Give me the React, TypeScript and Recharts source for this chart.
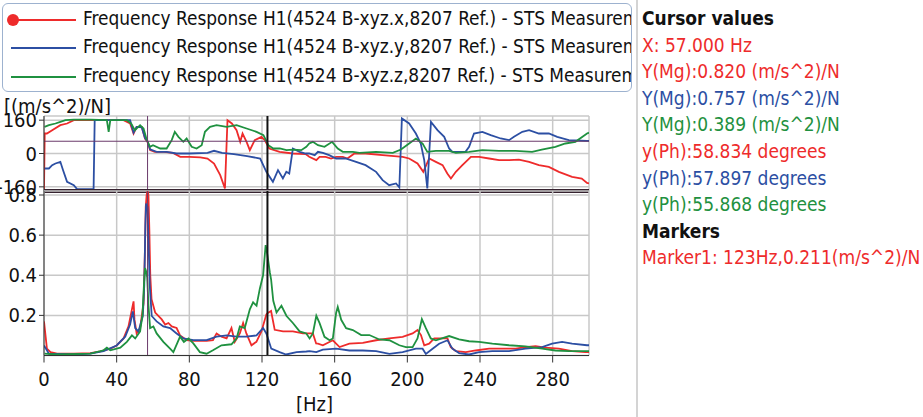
import { LineChart, Line, XAxis, YAxis, CartesianGrid, ReferenceLine } from "recharts";

const FONT = "'DejaVu Sans Condensed', 'Liberation Sans', sans-serif";
const RED = "#ee2b2b";
const BLUE = "#2c4fa3";
const GREEN = "#1f9140";

const legendLabels = [
  "Frequency Response H1(4524 B-xyz.x,8207 Ref.) - STS Measurement",
  "Frequency Response H1(4524 B-xyz.y,8207 Ref.) - STS Measurement",
  "Frequency Response H1(4524 B-xyz.z,8207 Ref.) - STS Measurement",
];

const xTicks = [0, 40, 80, 120, 160, 200, 240, 280];
const phaseTicks = [-160, 0, 160];
const magTicks = [0.2, 0.4, 0.6, 0.8];

const cursorHz = 57;
const cursorPh = 58.834;
const markerHz = 123;

// [Hz, degrees]
const redPh: [number, number][] = [
  [0, -175], [0.4, 96], [1.6, 96], [4.5, 112], [9, 136], [12.7, 144], [16.4, 160], [25.5, 160],
  [34.6, 160], [43.8, 160], [47.4, 144], [49.3, 96], [51, 128], [53.8, 128], [55.6, 72], [57, 56],
  [58.4, 16], [61, 8], [66, 8], [71, 3], [75, -16], [80, -16], [86, -19], [90, -24], [93.6, -48],
  [97, -104], [99.6, -168], [101, 160], [103.4, 144], [106, 112], [108, 56], [109.3, 96], [111.5, 56],
  [113.3, 16], [116, 64], [119.7, 80], [121.5, 64], [124, 24], [129.7, 8], [137, 0], [144, -3],
  [146, -16], [149.9, -32], [151.7, -16], [155, -16], [158, -24], [160.8, -16], [164.5, -16],
  [167, -24], [170.9, 0], [177, 0], [186.4, -8], [197.4, -16], [201, -24], [205.6, -48], [208.8, -88],
  [212, -24], [215.7, -40], [219.4, -56], [222, -96], [224, -120], [226.7, -88], [230.3, -56],
  [235, -16], [239.5, -16], [245, -24], [250.5, -32], [256, -32], [261.4, -29], [267, -40],
  [272.4, -56], [277.9, -64], [283.4, -88], [290.7, -112], [296, -120], [298.9, -141], [300, -144],
];

const bluePh: [number, number][] = [
  [0.3, -72], [2.7, -72], [4.5, -56], [6.3, -48], [9, -40], [10.5, -80], [12.7, -136], [16.4, -152],
  [18.2, -171], [23.7, -171], [27.3, -171], [27.9, 160], [34.6, 160], [47.4, 160], [49.3, 100],
  [51, 128], [53.8, 126], [55.6, 74], [57, 58], [58.4, 20], [62, 8], [67.5, 8], [73, 0], [80, 0],
  [90, 3], [93.6, 13], [98, 3], [104.5, -3], [111.8, -13], [119, -24], [122.4, -88], [126, -136],
  [128.8, -80], [131.5, -120], [133.4, -88], [135, -96], [137, 24], [140.7, 8], [144, 0],
  [146, 0], [149, -8], [150.8, 8], [153.5, 3], [157, -8], [160.8, -24], [166, -24], [171.8, -40],
  [177, -56], [182.8, -88], [186.4, -128], [190, -152], [193.8, -144], [195.6, -163], [197, 168],
  [201, 144], [204.7, 96], [207.4, 48], [209.3, -32], [211, -168], [213, 152], [216.6, 112],
  [220.3, 80], [223, 24], [224.8, 8], [232, 8], [234, 32], [236.7, 96], [241.3, 104], [245.9, 88],
  [251.4, 72], [256, 64], [258.7, 80], [263.3, 104], [267, 112], [272.4, 96], [277.9, 96],
  [282.5, 80], [288.9, 64], [298.9, 61], [300, 61],
];

const greenPh: [number, number][] = [
  [0.3, 128], [2.7, 136], [6.3, 144], [9, 152], [11.8, 160], [16.4, 163], [25.5, 163], [34.6, 160],
  [35.6, 104], [36.5, 160], [45.6, 160], [48, 144], [50, 112], [52.9, 136], [54.8, 120], [56.6, 64],
  [58.4, 32], [60, 40], [64, 24], [67.5, 24], [70.3, 64], [72, 104], [74, 80], [76.7, 56], [78.5, 72],
  [81.3, 32], [84, 24], [86.8, 40], [88.6, 104], [91.4, 128], [95, 136], [100.5, 128], [106, 136],
  [111.5, 120], [117, 104], [120.8, 88], [123.5, 40], [126.2, 24], [129.8, 24], [133.5, 16],
  [137, 19], [141.6, 16], [144.4, 32], [146, 48], [148, 56], [150.8, 40], [154.4, 32], [158.6, 56],
  [161.7, 24], [164.5, 8], [170, 8], [173.6, 3], [182.8, 8], [192, 3], [196.5, 19], [201, 48],
  [204.7, 72], [208.4, 48], [211, 8], [215.7, 13], [223, 13], [226.7, 3], [234, 8], [241.3, 16],
  [250.5, 13], [259.6, 13], [268.7, 8], [274, 19], [281.5, 32], [287, 48], [292.5, 56], [298.9, 96],
  [300, 100],
];

// [Hz, (m/s^2)/N]
const redMg: [number, number][] = [
  [0, 0.17], [1.6, 0.034], [3.6, 0.017], [7.2, 0.009], [16.4, 0.009], [25.5, 0.012], [31, 0.02],
  [36.5, 0.034], [40, 0.05], [43.8, 0.085], [46.5, 0.145], [48.4, 0.23], [49.3, 0.27], [49.8, 0.18],
  [51, 0.11], [52.9, 0.137], [54.8, 0.26], [55.5, 0.5], [56, 0.74], [56.5, 0.8], [57, 0.82],
  [57.5, 0.8], [58, 0.62], [58.5, 0.4], [59.2, 0.28], [61.2, 0.214], [64.8, 0.18], [66.7, 0.154],
  [68.5, 0.162], [70.3, 0.145], [73, 0.137], [74.9, 0.1], [78.5, 0.077], [82.2, 0.073], [89.5, 0.073],
  [93, 0.077], [95, 0.11], [97.7, 0.094], [100.5, 0.085], [103.2, 0.137], [105, 0.068], [107.8, 0.11],
  [109.6, 0.162], [111.4, 0.11], [114.2, 0.051], [116.9, 0.068], [119.7, 0.12], [122.4, 0.205],
  [123, 0.211], [125, 0.222], [127, 0.128], [131.6, 0.12], [137, 0.12], [142.5, 0.11], [148, 0.11],
  [149.8, 0.06], [150.8, 0.059], [153.5, 0.051], [159, 0.076], [162.7, 0.042], [168.1, 0.059],
  [175.5, 0.063], [182.8, 0.076], [190, 0.085], [197.4, 0.093], [202.9, 0.11], [205.6, 0.127],
  [207.5, 0.102], [209.3, 0.051], [212, 0.059], [214.8, 0.085], [217.5, 0.085], [222.1, 0.085],
  [223.9, 0.042], [226.7, 0.022], [232.2, 0.017], [237.6, 0.025], [245, 0.034], [252.3, 0.034],
  [259.6, 0.034], [265, 0.042], [270.6, 0.046], [276, 0.039], [283.4, 0.034], [290.7, 0.022],
  [298, 0.017], [300, 0.017],
];

const blueMg: [number, number][] = [
  [0, 0.05], [2.7, 0.009], [16.4, 0.005], [25.5, 0.009], [32.8, 0.022], [40, 0.05], [44.7, 0.094],
  [47.4, 0.154], [48.9, 0.22], [50.2, 0.137], [52, 0.12], [54.4, 0.197], [55.2, 0.35], [55.8, 0.65],
  [56.2, 0.757], [57, 0.74], [57.6, 0.55], [58.2, 0.35], [59.3, 0.197], [62, 0.17], [65.7, 0.145],
  [69.4, 0.137], [73, 0.11], [76.7, 0.085], [82.2, 0.077], [89.5, 0.077], [95, 0.094], [100.5, 0.1],
  [106, 0.094], [111.4, 0.094], [117, 0.1], [120.6, 0.137], [122.4, 0.11], [125.1, 0.034],
  [129.7, 0.017], [133.3, 0.005], [139, 0.017], [144.4, 0.02], [146.2, 0.022], [149.9, 0.017],
  [153.5, 0.029], [160.8, 0.034], [168.1, 0.025], [175.5, 0.025], [182.8, 0.022], [190.1, 0.008],
  [197.4, 0.017], [204.7, 0.034], [208.4, 0.034], [210.2, 0.008], [213.9, 0.034], [217.5, 0.059],
  [222.1, 0.076], [224.8, 0.034], [228.5, 0.012], [234, 0.005], [239.5, 0.017], [246.8, 0.022],
  [256, 0.022], [265, 0.034], [274.2, 0.042], [279.7, 0.059], [285.2, 0.068], [290.7, 0.059],
  [298.9, 0.051], [300, 0.051],
];

const greenMg: [number, number][] = [
  [0.3, 0.009], [7.2, 0.005], [25.5, 0.009], [32.8, 0.026], [34.6, 0.039], [36.5, 0.026], [42, 0.039],
  [45.6, 0.068], [48.4, 0.1], [50.2, 0.085], [52.9, 0.12], [54.2, 0.2], [55, 0.35], [55.6, 0.436],
  [56.2, 0.42], [56.8, 0.39], [57.5, 0.25], [58.4, 0.137], [60.2, 0.145], [62, 0.11], [65.7, 0.068],
  [69.4, 0.034], [71.2, 0.017], [74.9, 0.094], [77, 0.068], [79.5, 0.085], [82.2, 0.06], [85.8, 0.017],
  [89.5, 0.009], [93, 0.026], [97.7, 0.051], [103.2, 0.056], [106, 0.085], [107.8, 0.145],
  [110.5, 0.137], [113.3, 0.23], [115.1, 0.265], [117, 0.248], [118.8, 0.333], [120.6, 0.4],
  [122, 0.55], [123, 0.5], [124.3, 0.415], [125, 0.38], [126.2, 0.273], [128, 0.214], [130.7, 0.248],
  [133.5, 0.197], [137, 0.162], [140.7, 0.12], [144.4, 0.11], [146.2, 0.085], [148, 0.11],
  [149.9, 0.198], [151.7, 0.161], [154.4, 0.093], [157.2, 0.076], [159, 0.085], [160.8, 0.212],
  [161.7, 0.242], [163.6, 0.178], [166.3, 0.136], [170, 0.127], [174.6, 0.102], [179.1, 0.102],
  [184.6, 0.08], [190.1, 0.076], [195.6, 0.051], [199.2, 0.042], [202.9, 0.042], [205.6, 0.085],
  [208, 0.181], [210.2, 0.136], [212.9, 0.085], [215.7, 0.076], [223, 0.097], [228.5, 0.08],
  [234, 0.071], [239.5, 0.068], [246.8, 0.059], [256, 0.051], [265, 0.046], [274.2, 0.034],
  [281.5, 0.025], [288.9, 0.022], [298, 0.022], [300, 0.022],
];

const toPts = (arr: [number, number][]) => arr.map(([f, v]) => ({ f, v }));

const cursorLines = [
  { text: "X: 57.000 Hz", color: RED },
  { text: "Y(Mg):0.820 (m/s^2)/N", color: RED },
  { text: "Y(Mg):0.757 (m/s^2)/N", color: BLUE },
  { text: "Y(Mg):0.389 (m/s^2)/N", color: GREEN },
  { text: "y(Ph):58.834 degrees", color: RED },
  { text: "y(Ph):57.897 degrees", color: BLUE },
  { text: "y(Ph):55.868 degrees", color: GREEN },
];

const tickStyle = { fontSize: 20, fill: "#111", fontFamily: FONT };

function LegendRow({ color, label, dot, top }: { color: string; label: string; dot?: boolean; top: number }) {
  return (
    <div style={{ position: "absolute", left: 0, top, height: 28, width: 660 }}>
      <div style={{ position: "absolute", left: 8, top: 13, width: 65, height: 1.5, background: color }} />
      {dot && (
        <div style={{ position: "absolute", left: 4, top: 8, width: 12, height: 12, borderRadius: 6, background: color }} />
      )}
      <div style={{ position: "absolute", left: 80, top: 1, fontSize: 18.9, whiteSpace: "nowrap", color: "#111" }}>{label}</div>
    </div>
  );
}

export default function App() {
  const series = [
    { ph: redPh, mg: redMg, color: RED },
    { ph: bluePh, mg: blueMg, color: BLUE },
    { ph: greenPh, mg: greenMg, color: GREEN },
  ];
  return (
    <div style={{ position: "fixed", left: 0, top: 0, width: 923, height: 417, background: "#fff", overflow: "hidden", fontFamily: FONT }}>
      <div style={{ position: "absolute", left: 2, top: 3, width: 628, height: 87, border: "1px solid #9db2cf", borderRadius: 6, overflow: "hidden" }}>
        <LegendRow color={RED} label={legendLabels[0]} dot top={2} />
        <LegendRow color={BLUE} label={legendLabels[1]} top={30} />
        <LegendRow color={GREEN} label={legendLabels[2]} top={59} />
      </div>

      <div style={{ position: "absolute", left: 4, top: 94, fontSize: 20, color: "#111" }}>[(m/s^2)/N]</div>

      <div style={{ position: "absolute", left: 0, top: 100 }}>
        <LineChart width={600} height={100} margin={{ top: 16, right: 11, bottom: 9, left: 0 }}>
          <CartesianGrid stroke="#c8c8c8" strokeWidth={1.5} />
          <XAxis dataKey="f" type="number" domain={[0, 300]} ticks={xTicks} allowDataOverflow hide />
          <YAxis
            type="number"
            domain={[-180, 180]}
            ticks={phaseTicks}
            width={44}
            allowDataOverflow
            interval={0}
            tick={tickStyle}
            tickSize={5}
            tickMargin={2}
            stroke="#333"
          />
          {series.map((s, i) => (
            <Line key={i} data={toPts(s.ph)} dataKey="v" type="linear" dot={false} stroke={s.color} strokeWidth={1.8} isAnimationActive={false} />
          ))}
          <ReferenceLine y={cursorPh} stroke="#6a3a6a" strokeWidth={1} />
          <ReferenceLine x={cursorHz} stroke="#6a3a6a" strokeWidth={1} />
          <ReferenceLine x={markerHz} stroke="#111" strokeWidth={2} />
          <ReferenceLine y={-180} stroke="#35222f" strokeWidth={4} />
        </LineChart>
      </div>

      <div style={{ position: "absolute", left: 0, top: 185 }}>
        <LineChart width={600} height={232} margin={{ top: 6, right: 11, bottom: 0, left: 0 }}>
          <CartesianGrid stroke="#c8c8c8" strokeWidth={1.5} />
          <XAxis
            dataKey="f"
            type="number"
            domain={[0, 300]}
            ticks={xTicks}
            interval={0}
            allowDataOverflow
            height={61.5}
            tick={tickStyle}
            tickSize={7}
            tickMargin={9}
            stroke="#333"
          />
          <YAxis
            type="number"
            domain={[0, 0.82]}
            ticks={magTicks}
            width={44}
            allowDataOverflow
            interval={0}
            tick={tickStyle}
            tickSize={5}
            tickMargin={2}
            stroke="#333"
          />
          {series.map((s, i) => (
            <Line key={i} data={toPts(s.mg)} dataKey="v" type="linear" dot={false} stroke={s.color} strokeWidth={1.8} isAnimationActive={false} />
          ))}
          <ReferenceLine x={cursorHz} stroke="#6a3a6a" strokeWidth={1} />
          <ReferenceLine x={markerHz} stroke="#111" strokeWidth={2} />
        </LineChart>
      </div>

      <div style={{ position: "absolute", left: 296, top: 392, fontSize: 20, color: "#111" }}>[Hz]</div>

      <div style={{ position: "absolute", left: 636, top: 0, width: 2, height: 417, background: "#d4d4d4" }} />

      <div style={{ position: "absolute", left: 642, top: 5, fontSize: 19, lineHeight: "26.6px", whiteSpace: "nowrap" }}>
        <div style={{ fontWeight: "bold", color: "#111" }}>Cursor values</div>
        {cursorLines.map((c, i) => (
          <div key={i} style={{ color: c.color }}>{c.text}</div>
        ))}
        <div style={{ fontWeight: "bold", color: "#111" }}>Markers</div>
        <div style={{ color: RED }}>Marker1: 123Hz,0.211(m/s^2)/N</div>
      </div>
    </div>
  );
}
